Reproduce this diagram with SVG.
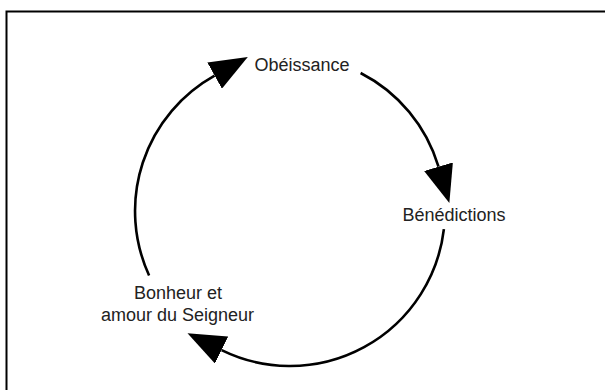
<svg xmlns="http://www.w3.org/2000/svg" width="605" height="390" viewBox="0 0 605 390">
  <style>
    .lbl { font-family: "Liberation Sans", Arial, Helvetica, sans-serif; font-size: 18px; fill: #222; text-anchor: middle; }
    .arc { fill: none; stroke: #000; stroke-width: 2.6; }
    .frame { fill: #fff; stroke: #000; stroke-width: 2; }
  </style>
  <defs>
    <marker id="ah" markerUnits="userSpaceOnUse" viewBox="0 0 38 30" refX="0" refY="15" markerWidth="38" markerHeight="30" orient="auto">
      <path d="M0,0 L38,15 L0,30 Z" fill="#000"/>
    </marker>
  </defs>
  <rect class="frame" x="6.5" y="11.5" width="640" height="420"/>
  <g id="connectors">
    <path class="arc" d="M149.1,275.5 A155,155 0 0 1 214.6,75.6" marker-end="url(#ah)"/>
    <path class="arc" d="M360.6,73 A155,155 0 0 1 438.5,166.7" marker-end="url(#ah)"/>
    <path class="arc" d="M443.9,229.1 A155,155 0 0 1 221.6,350.1" marker-end="url(#ah)"/>
  </g>
  <g id="node-obeissance">
    <text class="lbl" x="302" y="71">Obéissance</text>
  </g>
  <g id="node-benedictions">
    <text class="lbl" x="454" y="221">Bénédictions</text>
  </g>
  <g id="node-bonheur">
    <text class="lbl" x="178" y="299">Bonheur et</text>
    <text class="lbl" x="177.5" y="321">amour du Seigneur</text>
  </g>
</svg>
